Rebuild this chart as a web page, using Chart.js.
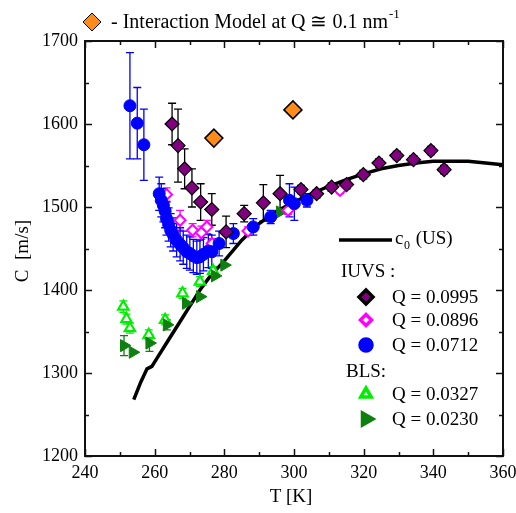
<!DOCTYPE html>
<html>
<head>
<meta charset="utf-8">
<script src="https://cdn.jsdelivr.net/npm/chart.js@4.4.1/dist/chart.umd.min.js"></script>
<style>
  html, body { margin: 0; padding: 0; background: #fff; }
  #wrap { width: 516px; height: 513px; }
</style>
</head>
<body>
<div id="wrap"><canvas id="grafico"></canvas></div>
<script>
// curva c0 (US)
const tempUS = [254, 256, 257.8, 259.2, 261, 264, 267, 270, 273, 276, 280, 285, 290, 295, 300, 305, 310, 315, 320, 325, 330, 335, 340, 345, 350, 355, 360];
const velUS = [1268, 1289, 1305, 1308, 1320, 1340, 1360, 1380, 1400, 1417, 1435, 1460, 1480, 1495, 1506, 1516, 1525, 1533, 1540, 1546, 1550, 1553, 1555, 1555, 1555, 1553, 1551];

// modelo de interacao
const tempModelo = [277.0, 299.7];
const velModelo = [1583, 1617];

// IUVS Q = 0.0995
const tempQ0995 = [265.0, 266.7, 268.6, 270.7, 273.2, 276.4, 280.5, 285.7, 291.2, 296.0, 302.0, 306.5, 310.8, 315.1, 319.9, 324.4, 329.5, 334.3, 339.3, 343.1];
const velQ0995 = [1600, 1574, 1546, 1523, 1506, 1497, 1470, 1492, 1505, 1516, 1521, 1516, 1524, 1527, 1539, 1553, 1562, 1557, 1568, 1545];
const errQ0995 = [25, 44, 24, 23, 22, 19, 19, 10, 22, 22, 5, 5, 5, 5, 5, 5, 5, 5, 5, 5];

// IUVS Q = 0.0896
const tempQ0896 = [263.4, 267.3, 270.9, 273.4, 275.0, 276.5, 286.8, 298.3, 313.2];
const velQ0896 = [1515, 1484, 1472, 1469, 1476, 1456, 1471, 1496, 1520];
const errQ0896 = [8, 12, 8, 8, 8, 6, 5, 5, 4];

// IUVS Q = 0.0712
const tempQ0712 = [252.9, 255.0, 256.9, 261.3, 261.9, 262.5, 263.0, 263.4, 264.0, 264.6, 265.3, 266.3, 267.3, 268.2, 269.2, 270.1, 271.1, 272.1, 273.0, 274.0, 275.4, 276.4, 278.5, 282.6, 288.3, 293.3, 298.7, 300.1, 303.7];
const velQ0712 = [1622, 1601, 1575, 1516, 1508, 1502, 1495, 1486, 1479, 1472, 1467, 1460, 1455, 1451, 1446, 1444, 1441, 1439, 1440, 1443, 1447, 1446, 1456, 1468, 1476, 1488, 1508, 1504, 1508];
const errQ0712 = [64, 43, 43, 20, 20, 20, 20, 20, 20, 20, 20, 20, 20, 20, 20, 20, 20, 20, 20, 20, 20, 20, 15, 12, 10, 8, 20, 20, 8];

// BLS Q = 0.0327
const tempQ0327 = [251.0, 251.9, 252.9, 258.3, 263.0, 268.0, 273.0, 276.8];
const velQ0327 = [1380, 1365, 1354, 1346, 1364, 1396, 1410, 1423];
const errQ0327 = [7, 6, 6, 6, 6, 6, 6, 5];

// BLS Q = 0.0230
const tempQ0230 = [251.2, 253.7, 258.5, 263.5, 269.0, 273.0, 277.3, 280.0, 296.0];
const velQ0230 = [1333, 1325, 1336, 1358, 1384, 1392, 1417, 1430, 1494];
const errQ0230 = [12, 0, 10, 6, 0, 0, 0, 0, 0];

const fonte = '"Liberation Serif", "DejaVu Serif", serif';

function pontos(xs, ys) {
  return xs.map(function (x, i) { return { x: x, y: ys[i] }; });
}

// barras de erro desenhadas antes dos pontos
const barrasErro = {
  id: "barrasErro",
  beforeDatasetsDraw(chart) {
    const ctx = chart.ctx;
    const sx = chart.scales.x;
    const sy = chart.scales.y;
    chart.data.datasets.forEach(function (ds) {
      if (!ds.erros) return;
      ctx.save();
      ctx.strokeStyle = ds.corErro;
      ctx.lineWidth = 1.3;
      ds.data.forEach(function (p, i) {
        const e = ds.erros[i];
        if (!e) return;
        const px = sx.getPixelForValue(p.x);
        const y1 = sy.getPixelForValue(p.y + e);
        const y2 = sy.getPixelForValue(p.y - e);
        ctx.beginPath();
        ctx.moveTo(px, y1); ctx.lineTo(px, y2);
        ctx.moveTo(px - 4, y1); ctx.lineTo(px + 4, y1);
        ctx.moveTo(px - 4, y2); ctx.lineTo(px + 4, y2);
        ctx.stroke();
      });
      ctx.restore();
    });
  },
};

// moldura com marcas para dentro
const moldura = {
  id: "moldura",
  afterDatasetsDraw(chart) {
    const ctx = chart.ctx;
    const a = chart.chartArea;
    const sx = chart.scales.x;
    const sy = chart.scales.y;
    ctx.save();
    ctx.strokeStyle = "#111";
    ctx.lineWidth = 1.5;
    for (let v = 240; v <= 360; v += 10) {
      const px = Math.round(sx.getPixelForValue(v)) + 0.5;
      const t = v % 20 == 0 ? 7 : 4;
      ctx.beginPath();
      ctx.moveTo(px, a.bottom); ctx.lineTo(px, a.bottom - t);
      ctx.moveTo(px, a.top); ctx.lineTo(px, a.top + t);
      ctx.stroke();
    }
    for (let v = 1200; v <= 1700; v += 50) {
      const py = Math.round(sy.getPixelForValue(v)) + 0.5;
      const t = v % 100 == 0 ? 7 : 4;
      ctx.beginPath();
      ctx.moveTo(a.left, py); ctx.lineTo(a.left + t, py);
      ctx.moveTo(a.right, py); ctx.lineTo(a.right - t, py);
      ctx.stroke();
    }
    ctx.lineWidth = 2;
    ctx.strokeRect(a.left, a.top, a.right - a.left, a.bottom - a.top);
    ctx.restore();
  },
};

function marcador(ctx, estilo, raio, rot, fundo, borda, larg, x, y) {
  ctx.save();
  ctx.fillStyle = fundo;
  ctx.strokeStyle = borda;
  Chart.helpers.drawPoint(ctx, { pointStyle: estilo, radius: raio, rotation: rot, borderWidth: larg }, x, y);
  ctx.restore();
}

// legendas e titulos dos eixos
const legendas = {
  id: "legendas",
  afterDraw(chart) {
    const ctx = chart.ctx;
    ctx.save();
    ctx.fillStyle = "#000";
    ctx.textBaseline = "middle";

    // titulo de cima
    marcador(ctx, "rectRot", 9, 0, "#ff8c1a", "#000", 1.5, 92, 22);
    ctx.font = "20px " + fonte;
    ctx.textAlign = "left";
    const t1 = "- Interaction Model at Q \u2245 0.1 nm";
    ctx.fillText(t1, 111, 23);
    const w1 = ctx.measureText(t1).width;
    ctx.font = "13px " + fonte;
    ctx.fillText("-1", 111 + w1 + 1, 15);

    // c0 (US)
    ctx.strokeStyle = "#000";
    ctx.lineWidth = 3.5;
    ctx.beginPath();
    ctx.moveTo(339, 240); ctx.lineTo(392, 240);
    ctx.stroke();
    ctx.font = "19px " + fonte;
    ctx.fillText("c", 395, 239);
    ctx.font = "12px " + fonte;
    ctx.fillText("0", 404, 246);
    ctx.font = "19px " + fonte;
    ctx.fillText(" (US)", 411, 239);

    ctx.fillText("IUVS :", 341, 272);
    ctx.fillText("BLS:", 346, 372);

    const itens = [
      ["Q = 0.0995", 297, "rectRot", 7, 0, "#800080", "#000", 1.2],
      ["Q = 0.0896", 320, "rectRot", 5.5, 0, "#fff", "#ff00ff", 2],
      ["Q = 0.0712", 345, "circle", 6, 0, "#0000ff", "#0000ff", 1],
      ["Q = 0.0327", 394, "triangle", 6, 0, "#fff", "#00ee00", 2.2],
      ["Q = 0.0230", 419, "triangle", 7, 90, "#0f800f", "#0f800f", 1],
    ];
    itens.forEach(function (it) {
      marcador(ctx, it[2], it[3], it[4], it[5], it[6], it[7], 366, it[1]);
      ctx.fillStyle = "#000";
      ctx.font = "19px " + fonte;
      ctx.fillText(it[0], 392, it[1] + 1);
    });

    // titulos dos eixos
    ctx.textAlign = "center";
    ctx.font = "19px " + fonte;
    ctx.fillText("T [K]", 291, 497);
    ctx.translate(23, 251);
    ctx.rotate(-Math.PI / 2);
    ctx.fillText("C  [m/s]", 0, 0);
    ctx.restore();
  },
};

const grafico = new Chart(document.getElementById("grafico"), {
  type: "scatter",
  data: {
    datasets: [
      {
        label: "c0 (US)",
        data: pontos(tempUS, velUS),
        showLine: true,
        borderColor: "#000",
        borderWidth: 3.5,
        pointRadius: 0,
        tension: 0,
        order: 6,
      },
      {
        label: "Interaction Model",
        data: pontos(tempModelo, velModelo),
        pointStyle: "rectRot",
        pointRadius: 9,
        backgroundColor: "#ff8c1a",
        borderColor: "#000",
        borderWidth: 1.5,
        order: 0,
      },
      {
        label: "Q = 0.0995",
        data: pontos(tempQ0995, velQ0995),
        erros: errQ0995,
        corErro: "#000",
        pointStyle: "rectRot",
        pointRadius: 7,
        backgroundColor: "#800080",
        borderColor: "#000",
        borderWidth: 1.2,
        order: 1,
      },
      {
        label: "Q = 0.0896",
        data: pontos(tempQ0896, velQ0896),
        erros: errQ0896,
        corErro: "#ff00ff",
        pointStyle: "rectRot",
        pointRadius: 5.5,
        backgroundColor: "#fff",
        borderColor: "#ff00ff",
        borderWidth: 2,
        order: 3,
      },
      {
        label: "Q = 0.0712",
        data: pontos(tempQ0712, velQ0712),
        erros: errQ0712,
        corErro: "#0000ff",
        pointStyle: "circle",
        pointRadius: 6,
        backgroundColor: "#0000ff",
        borderColor: "#0000ff",
        borderWidth: 1,
        order: 2,
      },
      {
        label: "Q = 0.0327",
        data: pontos(tempQ0327, velQ0327),
        erros: errQ0327,
        corErro: "#00ee00",
        pointStyle: "triangle",
        pointRadius: 6,
        backgroundColor: "#fff",
        borderColor: "#00ee00",
        borderWidth: 2.2,
        order: 5,
      },
      {
        label: "Q = 0.0230",
        data: pontos(tempQ0230, velQ0230),
        erros: errQ0230,
        corErro: "#0f800f",
        pointStyle: "triangle",
        rotation: 90,
        pointRadius: 7,
        backgroundColor: "#0f800f",
        borderColor: "#0f800f",
        borderWidth: 1,
        order: 4,
      },
    ],
  },
  options: {
    responsive: true,
    maintainAspectRatio: false,
    animation: false,
    devicePixelRatio: 1,
    layout: { padding: { top: 41, right: 13, left: 0, bottom: 0 } },
    plugins: {
      legend: { display: false },
      tooltip: { enabled: false },
    },
    scales: {
      x: {
        type: "linear",
        min: 240,
        max: 360,
        grid: { display: false, drawTicks: false },
        border: { display: false },
        ticks: {
          stepSize: 20, padding: 6, color: "#000", font: { family: fonte, size: 18 },
          callback: function (v) { return String(v); },
        },
        afterFit: function (s) { s.height = 57; s.paddingLeft = 0; s.paddingRight = 0; },
      },
      y: {
        type: "linear",
        min: 1200,
        max: 1700,
        grid: { display: false, drawTicks: false },
        border: { display: false },
        ticks: {
          stepSize: 100, padding: 7, color: "#000", font: { family: fonte, size: 18 },
          callback: function (v) { return String(v); },
        },
        afterFit: function (s) { s.width = 85; s.paddingTop = 0; s.paddingBottom = 0; },
      },
    },
  },
  plugins: [barrasErro, moldura, legendas],
});
</script>
</body>
</html>
